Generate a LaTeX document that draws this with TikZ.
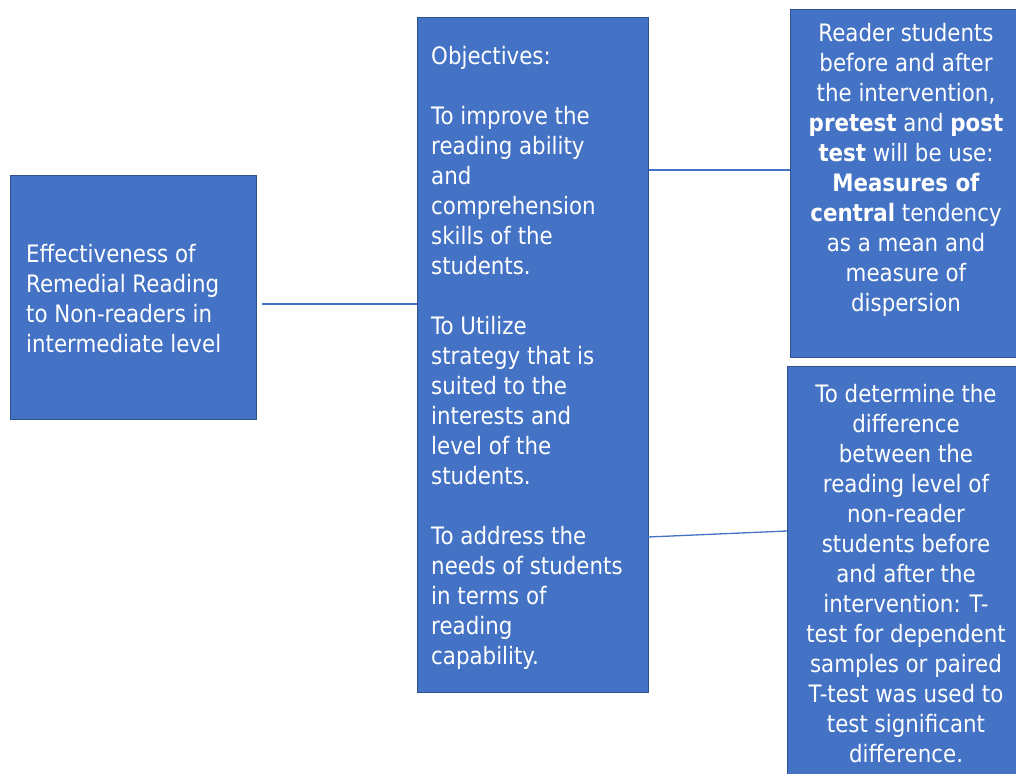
\documentclass[tikz,border=0pt]{standalone}
\usepackage{fontspec}
\setmainfont{DejaVu Sans}[FakeStretch=0.89]
\definecolor{boxfill}{HTML}{4472C4}
\definecolor{boxline}{HTML}{2F528F}
\definecolor{conn}{HTML}{4472C4}
\tikzset{
  box/.style={draw=boxline, line width=1pt, fill=boxfill, inner sep=0pt, anchor=north west},
  txt/.style={text=white, inner sep=0pt, font=\fontsize{24}{30}\selectfont},
  conline/.style={draw=conn, line width=1.3pt}
}
\begin{document}
\begin{tikzpicture}[x=1pt,y=-1pt]
\useasboundingbox (0,0) rectangle (1016,773);
% boxes
\node[box, minimum width=246pt, minimum height=244pt] (left) at (10,175) {};
\node[box, minimum width=231pt, minimum height=675pt] (mid) at (417,17) {};
\node[box, minimum width=245pt, minimum height=348pt] (tr) at (790,9) {};
\node[box, minimum width=250pt, minimum height=430pt] (br) at (787,366) {};
% texts
\node[txt, align=left, anchor=west] (lefttext) at (26,299)
  {Effectiveness of\\Remedial Reading\\to Non-readers in\\intermediate level};
\node[txt, align=left, anchor=west] (midtext) at (431,358)
  {Objectives:\\[30pt]To improve the\\reading ability\\and\\comprehension\\skills of the\\students.\\[30pt]To Utilize\\strategy that is\\suited to the\\interests and\\level of the\\students.\\[30pt]To address the\\needs of students\\in terms of\\reading\\capability.};
\node[txt, align=center] (trtext) at (906,169.5)
  {Reader students\\before and after\\the intervention,\\\textbf{pretest} and \textbf{post}\\\textbf{test} will be use:\\\textbf{Measures of}\\\textbf{central} tendency\\as a mean and\\measure of\\dispersion};
\node[txt, align=center] (brtext) at (906,573.5)
  {To determine the\\difference\\between the\\reading level of\\non-reader\\students before\\and after the\\intervention: T-\\test for dependent\\samples or paired\\T-test was used to\\test significant\\difference.};
% connectors
\coordinate (c1) at (262,304);
\draw[conline] (c1) -- (mid.west |- c1);
\coordinate (c2) at (648,170);
\draw[conline] (mid.east |- c2) -- (tr.west |- c2);
\coordinate (c3) at (648,537);
\coordinate (c4) at (787,531);
\draw[conline] (c3) -- (c4);
\end{tikzpicture}
\end{document}
